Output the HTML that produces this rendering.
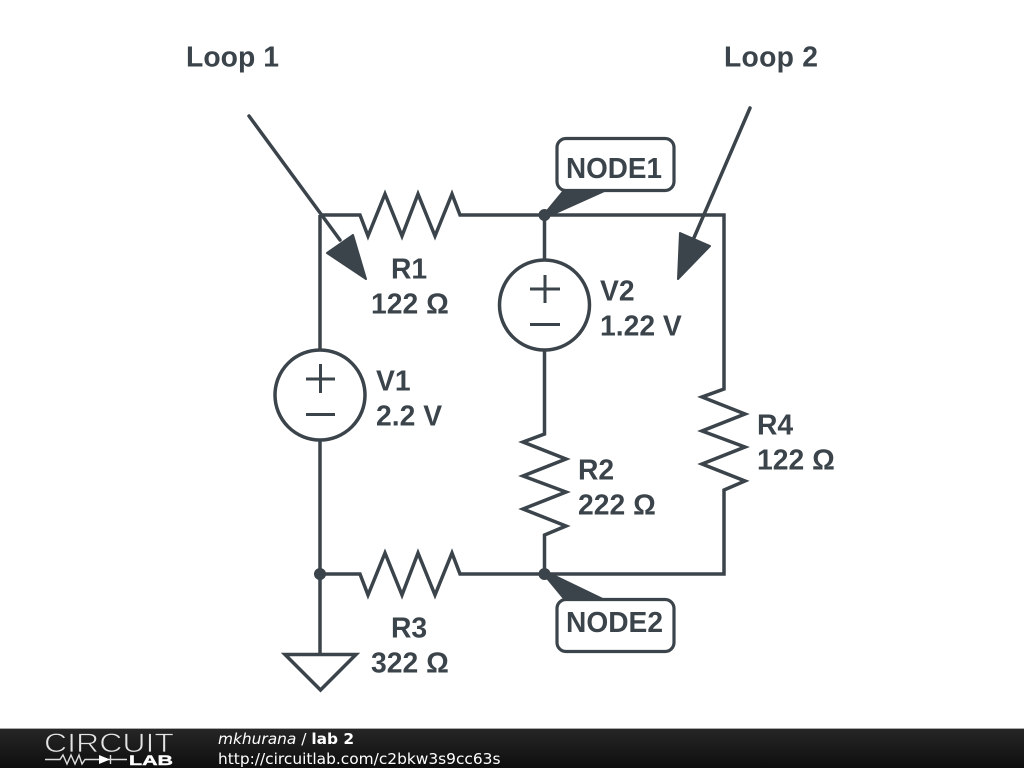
<!DOCTYPE html>
<html>
<head>
<meta charset="utf-8">
<style>
html,body{margin:0;padding:0;background:#fff;width:1024px;height:768px;overflow:hidden}
svg{display:block;position:absolute;left:0;top:0}
.l{font:bold 28.300px "Liberation Sans",sans-serif;fill:#3b444b}
.f{font:15.400px "DejaVu Sans",sans-serif;fill:#fff}
</style>
</head>
<body>
<svg width="1024" height="768" viewBox="0 0 1024 768" xmlns="http://www.w3.org/2000/svg">
<defs>
<linearGradient id="bar" x1="0" y1="0" x2="0" y2="1">
<stop offset="0" stop-color="#262626"/><stop offset="1" stop-color="#0e0e0e"/>
</linearGradient>
</defs>
<rect width="1024" height="768" fill="#fff"/>
<g fill="none" stroke="#3b444b" stroke-width="3.500" stroke-linejoin="miter" stroke-linecap="butt">
<path d="M320 215H360L368 236L385 194L402 236L418 194L435 236L452 194L460 215H724V389L702 397L745 414L702 431L745 447L702 464L745 481L724 490V574H544.500"/>
<path d="M320 215V350M320 440V654"/>
<path d="M320 574H360L368 595L385 553L402 595L418 553L435 595L452 553L460 574H545"/>
<path d="M544.500 215V260M544.500 350V434L523 442L566 459L523 476L566 492L523 509L566 526L544.500 535V574"/>
<circle cx="320" cy="395" r="45"/>
<circle cx="544.500" cy="305" r="45"/>
<g stroke-width="3">
<path d="M306 379H335M320.500 364V393M306 414.500H335"/>
<path d="M530 289H560M545 275V303M530 324.500H560"/>
</g>
<path d="M285 654.500H356L320.500 690Z"/>
<rect x="557" y="138.500" width="117" height="52" rx="9" fill="#fff" stroke-width="3.200"/>
<rect x="557" y="599.500" width="117" height="52" rx="9" fill="#fff" stroke-width="3.200"/>
</g>
<g fill="#3b444b">
<circle cx="320" cy="574" r="6"/>
<circle cx="544.500" cy="215" r="6"/>
<circle cx="544.500" cy="574" r="6"/>
<path d="M544 213L563 190H609L549 217Z"/>
<path d="M544 576L563 599H605L549 572Z"/>
</g>
<g fill="#3b444b" stroke="#3b444b" stroke-linejoin="round">
<path d="M249 116L340 240" stroke-width="3.500" stroke-linecap="round" fill="none"/>
<path d="M327 253L353 235L366 279Z" stroke-width="2"/>
<path d="M750 108L693 240" stroke-width="3.500" stroke-linecap="round" fill="none"/>
<path d="M680 233L710 246L678 279Z" stroke-width="2"/>
</g>
<text class="l" x="186" y="66.500" textLength="93">Loop 1</text>
<text class="l" x="724" y="66.500" textLength="94">Loop 2</text>
<text class="l" x="566" y="178" textLength="96" lengthAdjust="spacingAndGlyphs">NODE1</text>
<text class="l" x="566" y="632" textLength="97" lengthAdjust="spacingAndGlyphs">NODE2</text>
<text class="l" x="391" y="278.500">R1</text>
<text class="l" x="371" y="313.500">122 Ω</text>
<text class="l" x="600" y="300.500">V2</text>
<text class="l" x="600" y="335.500">1.22 V</text>
<text class="l" x="376" y="390.500">V1</text>
<text class="l" x="376" y="425.500">2.2 V</text>
<text class="l" x="757" y="434.500">R4</text>
<text class="l" x="757" y="469.500">122 Ω</text>
<text class="l" x="578" y="479.500">R2</text>
<text class="l" x="578" y="514.500">222 Ω</text>
<text class="l" x="391" y="637.500">R3</text>
<text class="l" x="371" y="672.500">322 Ω</text>
<rect x="0" y="728" width="1024" height="1" fill="#aaa"/>
<rect x="0" y="729" width="1024" height="39" fill="url(#bar)"/>
<text x="44" y="752" textLength="130" lengthAdjust="spacingAndGlyphs" style="font:26.500px 'Liberation Sans',sans-serif;fill:#e4e4e4;stroke:#1e1e1e;stroke-width:.8">CIRCUIT</text>
<g stroke="#ddd" stroke-width="1.400" fill="none">
<path d="M45 759.500H60L63 755L67 764L71 755L75 764L79 755L82 764L85 759.500H127"/>
<path d="M110.500 755V764"/>
</g>
<path d="M99 755L110 759.500L99 764Z" fill="#fff"/>
<text x="129" y="765" textLength="44" lengthAdjust="spacingAndGlyphs" style="font:bold 14px 'Liberation Sans',sans-serif;fill:#fff;stroke:#fff;stroke-width:.4">LAB</text>
<text class="f" x="218" y="744"><tspan font-style="italic">mkhurana</tspan> / <tspan font-weight="bold">lab 2</tspan></text>
<text class="f" x="218" y="764">http://circuitlab.com/c2bkw3s9cc63s</text>
</svg>
</body>
</html>
